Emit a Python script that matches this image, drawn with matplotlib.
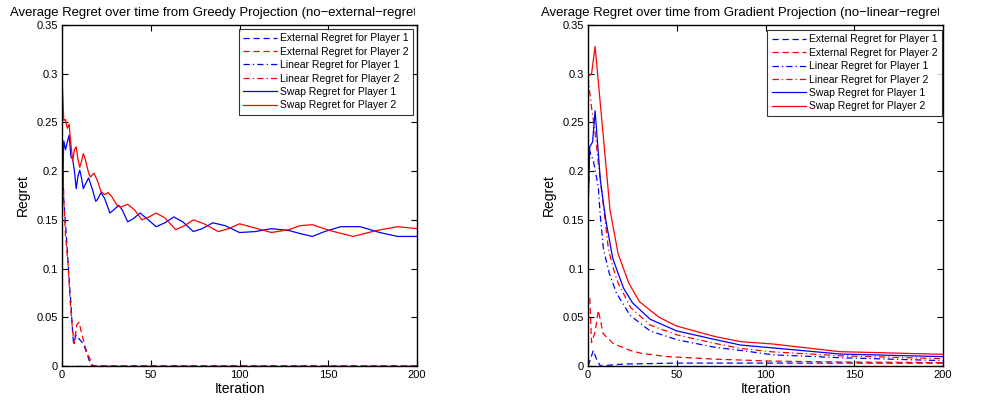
import numpy as np
import matplotlib.pyplot as plt
from matplotlib.transforms import Bbox, TransformedBbox

plt.rcParams["font.family"] = ["Liberation Sans", "DejaVu Sans"]

# ---- left: Greedy Projection ----
g_swap1_t = [0, 1, 2, 3, 4, 5, 6, 7, 8, 9, 10, 11, 12, 13, 15, 17, 19, 20, 22, 24, 27, 29, 32, 34, 37,
             40, 44, 48, 53, 58, 63, 68, 74, 79, 85, 92, 100, 109, 118, 128, 134, 141, 148, 157, 168,
             179, 189, 200]
g_swap1 = [0.160, 0.231, 0.222, 0.230, 0.237, 0.215, 0.212, 0.200, 0.182, 0.195, 0.201, 0.193, 0.182,
           0.186, 0.193, 0.182, 0.169, 0.171, 0.178, 0.172, 0.157, 0.160, 0.165, 0.160, 0.148, 0.151,
           0.157, 0.151, 0.143, 0.147, 0.153, 0.148, 0.138, 0.141, 0.147, 0.144, 0.137, 0.138, 0.141,
           0.139, 0.136, 0.133, 0.138, 0.143, 0.143, 0.137, 0.133, 0.133]
g_swap2_t = [0, 1, 2, 3, 4, 5, 6, 7, 8, 9, 10, 11, 12, 13, 15, 16, 18, 20, 22, 24, 26, 28, 31, 33, 37,
             41, 45, 49, 53, 58, 64, 69, 74, 80, 88, 94, 100, 110, 118, 128, 134, 141, 151, 164, 177,
             189, 200]
g_swap2 = [0.296, 0.252, 0.253, 0.244, 0.248, 0.228, 0.211, 0.222, 0.225, 0.212, 0.204, 0.210, 0.218,
           0.213, 0.198, 0.194, 0.198, 0.190, 0.179, 0.176, 0.178, 0.174, 0.165, 0.163, 0.166, 0.160,
           0.150, 0.153, 0.157, 0.152, 0.140, 0.144, 0.150, 0.146, 0.138, 0.141, 0.146, 0.141, 0.137,
           0.140, 0.144, 0.145, 0.139, 0.133, 0.139, 0.143, 0.141]
g_ext1_t = [0, 1, 2, 3, 4, 5, 6, 6.5, 8, 10, 12, 14, 16, 17, 200]
g_ext1 = [0.235, 0.170, 0.145, 0.119, 0.090, 0.065, 0.034, 0.023, 0.032, 0.027, 0.023, 0.013, 0.002, 0, 0]
g_ext2_t = [0, 1, 2, 3.5, 4.5, 5.8, 6.8, 8.3, 9.6, 11, 13, 14.8, 17.6, 200]
g_ext2 = [0.252, 0.170, 0.133, 0.102, 0.068, 0.040, 0.023, 0.042, 0.045, 0.034, 0.020, 0.011, 0, 0]
g_lin_t = [0, 200]
g_lin1 = [0, 0]
g_lin2 = [0, 0]

# ---- right: Gradient Projection ----
p_swap2_t = [0, 2, 4, 12.4, 17, 23, 29, 40, 50, 72, 86, 104, 142, 200]
p_swap2 = [0.297, 0.300, 0.328, 0.160, 0.115, 0.085, 0.066, 0.050, 0.041, 0.030, 0.025, 0.0226,
           0.0147, 0.012]
p_swap1_t = [0, 1, 2.6, 4, 7, 10, 14, 16, 20, 25, 35, 50, 72, 86, 104, 142, 200]
p_swap1 = [0.160, 0.225, 0.230, 0.262, 0.190, 0.150, 0.110, 0.100, 0.080, 0.065, 0.048, 0.036, 0.027,
           0.0215, 0.0186, 0.0123, 0.0096]
p_lin2_t = [0, 2, 4, 6, 8.6, 11.5, 14.3, 17, 24, 35, 50, 72, 86, 104, 142, 200]
p_lin2 = [0.297, 0.265, 0.240, 0.205, 0.166, 0.120, 0.100, 0.085, 0.060, 0.042, 0.032, 0.023, 0.018,
          0.0145, 0.0105, 0.0075]
p_lin1_t = [0, 1, 3, 5.8, 6.8, 8.7, 12, 16, 23.7, 35, 50, 72, 86, 104, 142, 200]
p_lin1 = [0.160, 0.220, 0.211, 0.184, 0.157, 0.120, 0.095, 0.075, 0.052, 0.036, 0.027, 0.019, 0.016,
          0.0115, 0.0085, 0.0055]
p_ext2_t = [1, 2, 4, 5.8, 8.6, 14.3, 23.7, 30, 45, 72, 104, 150, 200]
p_ext2 = [0.070, 0.024, 0.035, 0.057, 0.033, 0.023, 0.016, 0.013, 0.0096, 0.007, 0.005, 0.004, 0.0035]
p_ext1_t = [0, 1, 3, 5, 7, 10, 20, 50, 100, 150, 200]
p_ext1 = [0.0, 0.005, 0.016, 0.006, 0.0, 0.0005, 0.002, 0.003, 0.003, 0.003, 0.003]

labels = ["External Regret for Player 1", "External Regret for Player 2",
          "Linear Regret for Player 1", "Linear Regret for Player 2",
          "Swap Regret for Player 1", "Swap Regret for Player 2"]
yticks = [0, 0.05, 0.1, 0.15, 0.2, 0.25, 0.3, 0.35]
ytick_labels = ["0", "0.05", "0.1", "0.15", "0.2", "0.25", "0.3", "0.35"]
xticks = [0, 50, 100, 150, 200]

DASH = (0, (5, 3))
DASHDOT = (0, (5, 2.5, 1, 2.5))


def style_axes(ax, legend_anchor):
    ax.set_xlim(0, 200)
    ax.set_ylim(0, 0.35)
    ax.set_xticks(xticks)
    ax.set_yticks(yticks)
    ax.set_yticklabels(ytick_labels)
    ax.tick_params(direction="in", length=4, width=0.8, labelsize=8, top=True, right=True, pad=3)
    for s in ax.spines.values():
        s.set_linewidth(1.0)
    ax.set_xlabel("Iteration", fontsize=10, labelpad=1)
    ax.set_ylabel("Regret", fontsize=10, labelpad=5)
    leg = ax.legend(loc="upper right", bbox_to_anchor=legend_anchor, fontsize=7.5, frameon=True,
                    fancybox=False, edgecolor="black", borderaxespad=0, handlelength=3.3,
                    handletextpad=0.3, labelspacing=0.33, borderpad=0.4)
    leg.get_frame().set_linewidth(0.8)


def draw(ax, series):
    styles = [("blue", DASH), ("red", DASH), ("blue", DASHDOT), ("red", DASHDOT),
              ("blue", "-"), ("red", "-")]
    for (t, y), (c, ls), lab in zip(series, styles, labels):
        ax.plot(t, y, color=c, linestyle=ls, linewidth=0.9, label=lab)


fig = plt.figure(figsize=(9.92, 4.0), dpi=100)
ax1 = fig.add_axes([62 / 992, 34 / 400, 355 / 992, 341 / 400])
ax2 = fig.add_axes([588 / 992, 34 / 400, 355 / 992, 341 / 400])

draw(ax1, [(g_ext1_t, g_ext1), (g_ext2_t, g_ext2), (g_lin_t, g_lin1), (g_lin_t, g_lin2),
           (g_swap1_t, g_swap1), (g_swap2_t, g_swap2)])
draw(ax2, [(p_ext1_t, p_ext1), (p_ext2_t, p_ext2), (p_lin1_t, p_lin1), (p_lin2_t, p_lin2),
           (p_swap1_t, p_swap1), (p_swap2_t, p_swap2)])
style_axes(ax1, (0.989, 0.988))
style_axes(ax2, (0.997, 0.985))

# titles are clipped near the right edge of each axes, as in the original
for x0, x1, txt in [(10, 415, "Average Regret over time from Greedy Projection (no\u2212external\u2212regret)"),
                    (541, 939, "Average Regret over time from Gradient Projection (no\u2212linear\u2212regret)")]:
    t = fig.text(x0 / 992, 1 - 16 / 400, txt, fontsize=9.45, ha="left", va="baseline")
    t.set_clip_on(True)
    t.set_clip_box(TransformedBbox(Bbox([[0, 0], [x1 / 992, 1]]), fig.transFigure))

fig.savefig("out.png", dpi=100)
